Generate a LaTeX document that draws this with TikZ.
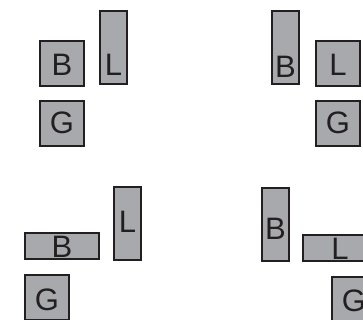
\documentclass[tikz,border=0pt]{standalone}
\usepackage{fontspec}
\setmainfont{Liberation Sans}
\definecolor{boxfill}{HTML}{A7A9AC}
\definecolor{boxline}{HTML}{231F20}
\tikzset{
  blk/.style={draw=boxline, fill=boxfill, line width=2pt, inner sep=0pt},
  sq/.style={blk, minimum width=44pt, minimum height=45pt},
  tall/.style={blk, minimum width=27pt, minimum height=73pt},
  wide/.style={blk, minimum width=74pt, minimum height=26pt},
  lbl/.style={anchor=base, inner sep=0pt, text=boxline, font=\fontsize{31}{31}\selectfont}
}
\begin{document}
\begin{tikzpicture}[x=1pt,y=-1pt]
\useasboundingbox (0,0) rectangle (363,320);
\clip (0,0) rectangle (363,320);
% panel 1
\node[sq] (B1) at (62,63.5) {};
\node[tall] (L1) at (113.5,47.5) {};
\node[sq] (G1) at (62,123.5) {};
\node[lbl] (tB1) at (62,75.5) {B};
\node[lbl] (tL1) at (113.5,76) {L};
\node[lbl] (tG1) at (62,133.5) {G};
% panel 2
\node[tall] (B2) at (285.5,47.5) {};
\node[sq] (L2) at (338,63.5) {};
\node[sq] (G2) at (338,123.5) {};
\node[lbl] (tB2) at (285.5,78) {B};
\node[lbl] (tL2) at (338,75.5) {L};
\node[lbl] (tG2) at (338,133.5) {G};
% panel 3
\node[wide] (B3) at (62,246) {};
\node[tall] (L3) at (127.5,223.5) {};
\node[sq] (G3) at (47,297.5) {};
\node[lbl] (tB3) at (62,257) {B};
\node[lbl] (tL3) at (127.5,232) {L};
\node[lbl] (tG3) at (47,310) {G};
% panel 4
\node[tall] (B4) at (275.5,224.5) {};
\node[wide] (L4) at (340,248) {};
\node[sq] (G4) at (354,299.5) {};
\node[lbl] (tB4) at (275.5,239) {B};
\node[lbl] (tL4) at (340,259) {L};
\node[lbl] (tG4) at (354,311) {G};
\end{tikzpicture}
\end{document}
